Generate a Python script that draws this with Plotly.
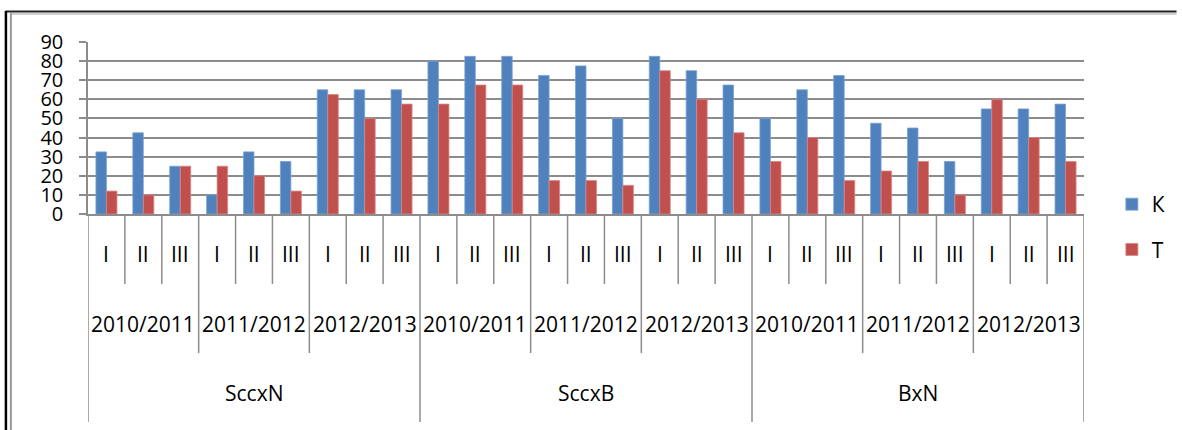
import plotly.graph_objects as go

# Hierarchical category levels
crosses = ["SccxN", "SccxB", "BxN"]
seasons = ["2010/2011", "2011/2012", "2012/2013"]
terms = ["I", "II", "III"]

# Series values, ordered cross -> season -> term
k_values = [32.5, 42.5, 25, 10, 32.5, 27.5, 65, 65, 65,
            80, 82.5, 82.5, 72.5, 77.5, 50, 82.5, 75, 67.5,
            50, 65, 72.5, 47.5, 45, 27.5, 55, 55, 57.5]
t_values = [12, 10, 25, 25, 20, 12, 62.5, 50, 57.5,
            57.5, 67.5, 67.5, 17.5, 17.5, 15, 75, 60, 42.5,
            27.5, 40, 17.5, 22.5, 27.5, 10, 60, 40, 27.5]

W, H = 1182, 430
ML, MR, MT, MB = 88, 93, 42, 216
PW, PH = W - ML - MR, H - MT - MB

def px_x(px):
    return (px - ML) / PW

def px_y(py):
    return (H - MB - py) / PH

n = len(k_values)
xs = list(range(n))

fig = go.Figure()
fig.add_trace(go.Bar(x=xs, y=k_values, name="К", legendgroup="k",
                     marker=dict(color="#4F81BD", line=dict(color="#7BA3D6", width=0.8))))
fig.add_trace(go.Bar(x=xs, y=t_values, name="Т", legendgroup="t",
                     marker=dict(color="#C0504D", line=dict(color="#DA8684", width=0.8))))

grid = "#8C8C8C"
font = "Open Sans, Noto Sans, sans-serif"

shapes = []
annotations = []

# Divider lines below the axis: short at every term, longer per season, full per cross
axis_py = H - MB
for b in range(n + 1):
    if b % 9 == 0:
        bottom = 422
    elif b % 3 == 0:
        bottom = 353
    else:
        bottom = 284
    shapes.append(dict(type="line", xref="x", yref="paper",
                       x0=b - 0.5, x1=b - 0.5, y0=px_y(axis_py), y1=px_y(bottom),
                       line=dict(color=grid, width=1.5)))

label_font = dict(size=21, color="black", family=font)

def label(x, py, text):
    annotations.append(dict(x=x, y=px_y(py), xref="x", yref="paper",
                            xanchor="center", yanchor="middle",
                            text=text, showarrow=False, font=label_font))

# Level labels
i = 0
for c, cross in enumerate(crosses):
    for s, season in enumerate(seasons):
        for t, term in enumerate(terms):
            label(i, 254, term)
            i += 1
        label(c * 9 + s * 3 + 1, 324, season)
    label(c * 9 + 4, 393, cross)

# Outer frame (top and left edges)
shapes += [
    dict(type="line", xref="paper", yref="paper", x0=px_x(5), x1=px_x(W), y0=px_y(11.5), y1=px_y(11.5),
         line=dict(color="#222222", width=2)),
    dict(type="line", xref="paper", yref="paper", x0=px_x(10), x1=px_x(W), y0=px_y(14), y1=px_y(14),
         line=dict(color="#CFCFCF", width=2)),
    dict(type="line", xref="paper", yref="paper", x0=px_x(5.5), x1=px_x(5.5), y0=px_y(11), y1=px_y(H),
         line=dict(color="#000000", width=2.5)),
    dict(type="line", xref="paper", yref="paper", x0=px_x(10.5), x1=px_x(10.5), y0=px_y(13), y1=px_y(H),
         line=dict(color="#999999", width=2)),
]

fig.update_layout(
    width=W, height=H,
    margin=dict(l=ML, r=MR, t=MT, b=MB, pad=0),
    paper_bgcolor="white", plot_bgcolor="white",
    barmode="group", bargap=0.43, bargroupgap=0,
    font=dict(family=font, size=21, color="black"),
    shapes=shapes, annotations=annotations,
    showlegend=True,
    legend=dict(x=px_x(1117), xanchor="left", y=px_y(184), yanchor="top",
                font=dict(size=21, color="black", family=font),
                entrywidth=40, tracegroupgap=15, bgcolor="rgba(0,0,0,0)",
                borderwidth=0),
)
fig.update_xaxes(range=[-0.5, n - 0.5], showticklabels=False, showgrid=False,
                 zeroline=False, showline=True, linecolor=grid, linewidth=1.5, ticks="")
fig.update_yaxes(range=[0, 90], dtick=10, showgrid=True, gridcolor=grid, gridwidth=1.5,
                 zeroline=False, showline=True, linecolor=grid, linewidth=1.5,
                 ticks="outside", ticklen=7, tickcolor=grid, tickwidth=1.5,
                 ticklabelstandoff=12, tickfont=dict(size=20, color="black", family=font))

fig.write_html("out.html", config={"displayModeBar": False})
